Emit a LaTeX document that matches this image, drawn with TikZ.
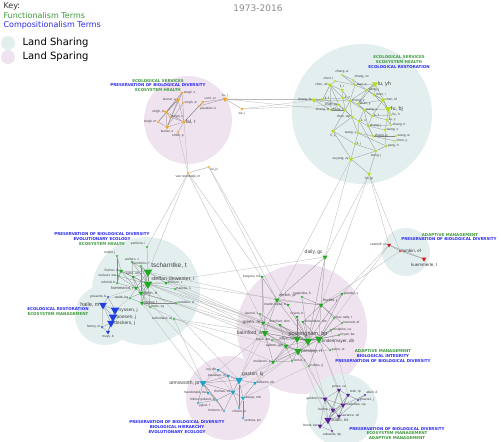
\documentclass[tikz,border=0pt]{standalone}
\usepackage{fontspec}
\setmainfont{DejaVu Sans}
\newfontfamily\labfont{Liberation Sans}
\usetikzlibrary{shapes.geometric}
\pgfdeclarelayer{bg}
\pgfdeclarelayer{edges}
\pgfsetlayers{bg,edges,main}
\definecolor{bgTeal}{HTML}{E3EFEF}
\definecolor{bgPink}{HTML}{F0E3F0}
\definecolor{cOr}{HTML}{F2A51F}
\definecolor{cYg}{HTML}{B8DC1C}
\definecolor{cGr}{HTML}{22A822}
\definecolor{cBl}{HTML}{1F3FE0}
\definecolor{cRd}{HTML}{D41C1C}
\definecolor{cCy}{HTML}{1CA5C8}
\definecolor{cPu}{HTML}{5A1F99}
\definecolor{tGr}{HTML}{3E9B3E}
\definecolor{tBl}{HTML}{2B2BF0}
\tikzset{
 tri/.style={regular polygon, regular polygon sides=3, shape border rotate=180, inner sep=0pt, minimum size=#1pt, draw=none},
 tri/.default=3.5,
 orn/.style={tri=#1,fill=cOr}, orn/.default=3.5,
 ygn/.style={tri=#1,fill=cYg}, ygn/.default=3.5,
 grn/.style={tri=#1,fill=cGr}, grn/.default=3.5,
 bln/.style={tri=#1,fill=cBl}, bln/.default=3.5,
 rdn/.style={tri=#1,fill=cRd}, rdn/.default=3.5,
 cyn/.style={tri=#1,fill=cCy}, cyn/.default=3.5,
 pun/.style={tri=#1,fill=cPu}, pun/.default=3.5,
 lab/.style={font=\labfont\fontsize{#1}{#1}\selectfont, text=black!75, inner sep=0.4pt},
 lab/.default=3.3,
 term/.style={font=\bfseries\fontsize{4}{4.5}\selectfont, inner sep=0pt},
 ein/.style={draw=black!48, line width=0.25pt},
 eout/.style={draw=black!28, line width=0.3pt},
}
\begin{document}
\begin{tikzpicture}[x=1pt,y=-1pt]
\useasboundingbox (0,0) rectangle (501,442);
\begin{pgfonlayer}{bg}
\fill[white] (0,0) rectangle (501,442);
\fill[bgPink] (188,120) circle (44pt);
\fill[bgTeal] (362,114) circle (70pt);
\fill[bgTeal] (146,291) circle (54pt);
\fill[bgTeal] (105,315) circle (30pt);
\fill[bgPink] (302,329) circle (65pt);
\fill[bgTeal] (406,252) circle (24pt);
\fill[bgPink] (228,398) circle (42pt);
\fill[bgTeal] (342,410) circle (36pt);
\end{pgfonlayer}

% legend and title
\node[anchor=west, font=\fontsize{8}{9}\selectfont, text=black!80] (key) at (0,6) {Key:};
\node[anchor=west, font=\fontsize{8}{9}\selectfont, text=tGr] (keyf) at (0,16) {Functionalism Terms};
\node[anchor=west, font=\fontsize{8}{9}\selectfont, text=tBl] (keyc) at (0,25) {Compositionalism Terms};
\fill[bgTeal] (8,43) circle (7pt);
\fill[bgPink] (8,57) circle (7pt);
\node[anchor=west, font=\fontsize{10}{11}\selectfont] (kshare) at (19,43) {Land Sharing};
\node[anchor=west, font=\fontsize{10}{11}\selectfont] (kspare) at (19,57) {Land Sparing};
\node[font=\fontsize{9}{10}\selectfont, text=black!45] (title) at (258,8) {1973-2016};

% terms
\node[term,text=tGr] (ta1) at (158,81) {ECOLOGICAL SERVICES};
\node[term,text=tBl] (ta2) at (158,85.5) {PRESERVATION OF BIOLOGICAL DIVERSITY};
\node[term,text=tGr] (ta3) at (158,90) {ECOSYSTEM HEALTH};
\node[term,text=tGr] (tb1) at (399,57) {ECOLOGICAL SERVICES};
\node[term,text=tGr] (tb2) at (399,62) {ECOSYSTEM HEALTH};
\node[term,text=tBl] (tb3) at (399,67) {ECOLOGICAL RESTORATION};
\node[term,text=tBl] (tc1) at (102,234) {PRESERVATION OF BIOLOGICAL DIVERSITY};
\node[term,text=tBl] (tc2) at (102,239) {EVOLUTIONARY ECOLOGY};
\node[term,text=tGr] (tc3) at (102,244) {ECOSYSTEM HEALTH};
\node[term,text=tBl] (td1) at (58,309) {ECOLOGICAL RESTORATION};
\node[term,text=tGr] (td2) at (58,314) {ECOSYSTEM MANAGEMENT};
\node[term,text=tGr] (te1) at (450,235) {ADAPTIVE MANAGEMENT};
\node[term,text=tBl] (te2) at (449,239.5) {PRESERVATION OF BIOLOGICAL DIVERSITY};
\node[term,text=tGr] (tf1) at (383,351) {ADAPTIVE MANAGEMENT};
\node[term,text=tBl] (tf2) at (383,356) {BIOLOGICAL INTEGRITY};
\node[term,text=tBl] (tf3) at (383,361) {PRESERVATION OF BIOLOGICAL DIVERSITY};
\node[term,text=tBl] (tg1) at (177,422) {PRESERVATION OF BIOLOGICAL DIVERSITY};
\node[term,text=tBl] (tg2) at (177,427) {BIOLOGICAL HIERARCHY};
\node[term,text=tBl] (tg3) at (177,432) {EVOLUTIONARY ECOLOGY};
\node[term,text=tBl] (th1) at (397,429) {PRESERVATION OF BIOLOGICAL DIVERSITY};
\node[term,text=tGr] (th2) at (397,433.5) {ECOSYSTEM MANAGEMENT};
\node[term,text=tGr] (th3) at (397,438) {ADAPTIVE MANAGEMENT};

% orange cluster
\node[orn=3.5,label={[lab]right:singh, s}] (o1) at (182,93) {};
\node[orn=5,label={[lab]left:kumar, a}] (o2) at (178,100) {};
\node[orn=3,label={[lab]right:singh, w}] (o2b) at (183,103) {};
\node[orn=3.5,label={[lab]above right:cerri, cc}] (o3) at (203,102) {};
\node[orn=6,label={[lab]above:xu, j}] (o4) at (225,99) {};
\node[orn=3.5,label={[lab]below:xie, j}] (o5) at (242,109) {};
\node[orn=3,label={[lab]below right:paustian, k}] (o6) at (199,106) {};
\node[orn=5,label={[lab]left:singh, d}] (o7) at (166,112) {};
\node[orn=3,label={[lab]right:singh, r}] (o8) at (170,117) {};
\node[orn=4.5,label={[lab=5]right:lal, r}] (o9) at (184,122) {};
\node[orn=3,label={[lab]left:singh, m}] (o10) at (158,122) {};
\node[orn=5,label={[lab]below:kumar, s}] (o11) at (167,127) {};
\node[orn=3,label={[lab]below:smith, p}] (o12) at (178,132) {};
\node[orn=3,label={[lab]below:van noordwijk, m}] (o13) at (188,173) {};
\node[orn=3,label={[lab]below right:xu, jc}] (o14) at (209,167) {};

% yellow-green cluster
\node[ygn=3,label={[lab]above:zhang, w}] (y1) at (342,75) {};
\node[ygn=3,label={[lab]above left:chen, l}] (y2) at (335,81) {};
\node[ygn=3,label={[lab]above right:zhang, xx}] (y3) at (353,80) {};
\node[ygn=5.5,label={[lab]left:chen, xd}] (y4) at (330,85) {};
\node[ygn=3.5,label={[lab]right:xiao, q}] (y5) at (355,85) {};
\node[ygn=7,label={[lab=5.5]right:lu, yh}] (y6) at (375,84) {};
\node[ygn=4,label={[lab]above:li, r}] (y7) at (342,90) {};
\node[ygn=3.5,label={[lab]right:wang, j}] (y8) at (367,90) {};
\node[ygn=6,label={[lab]left:zhang, fs}] (y9) at (314,100) {};
\node[ygn=3.5,label={[lab]right:li, f}] (y10) at (323,99) {};
\node[ygn=3.5,label={[lab]right:chen, i}] (y11) at (374,95) {};
\node[ygn=5.5,label={[lab]right:chen, ld}] (y12) at (383,100) {};
\node[ygn=7.5,label={[lab=5.5]right:fu, bj}] (y13) at (388,109) {};
\node[ygn=3.5,label={[lab]left:zhang, lx}] (y14) at (331,110) {};
\node[ygn=4,label={[lab]right:li, z}] (y15) at (343,98) {};
\node[ygn=3.5,label={[lab]left:chen, xx}] (y16) at (339,105) {};
\node[ygn=4,label={[lab]right:zhang, y}] (y17) at (350,101) {};
\node[ygn=3.5,label={[lab]right:zhao, y}] (y18) at (358,104) {};
\node[ygn=4,label={[lab]left:zhang, l}] (y19) at (345,110) {};
\node[ygn=4,label={[lab]right:wang, s}] (y20) at (364,110) {};
\node[ygn=3.5,label={[lab]right:lu, f}] (y21) at (372,116) {};
\node[ygn=4,label={[lab]left:chen, wp}] (y22) at (352,117) {};
\node[ygn=4,label={[lab]right:li, x}] (y23) at (359,121) {};
\node[ygn=3.5,label={[lab]right:zhang, j}] (y24) at (368,126) {};
\node[ygn=3.5,label={[lab]left:wang, y}] (y25) at (358,133) {};
\node[ygn=3.5,label={[lab]right:zhang, q}] (y26) at (373,136) {};
\node[ygn=3.5,label={[lab]right:li, j}] (y27) at (355,144) {};
\node[ygn=5,label={[lab]below:li, y}] (y28) at (333,131) {};
\node[ygn=3,label={[lab]right:liu, h}] (y29) at (391,115) {};
\node[ygn=3.5,label={[lab]right:liu, y}] (y30) at (387,120) {};
\node[ygn=3,label={[lab]right:zhang, h}] (y31) at (391,125) {};
\node[ygn=3.5,label={[lab]right:wang, x}] (y32) at (385,130) {};
\node[ygn=3,label={[lab]right:wang, w}] (y33) at (396,136) {};
\node[ygn=3,label={[lab]right:chen, y}] (y34) at (395,141) {};
\node[ygn=3.5,label={[lab]right:yang, h}] (y35) at (386,146) {};
\node[ygn=3.5,label={[lab]below:xiong, j}] (y36) at (376,151) {};
\node[ygn=5.5,label={[lab]left:ouyang, zy}] (y37) at (351,159) {};
\node[ygn=5,label={[lab]below:hu, jp}] (y38) at (369,174) {};

% red cluster
\node[rdn=5,label={[lab]left:radeloff, vc}] (r1) at (389,245) {};
\node[rdn=3,label={[lab=4.5]right:lambin, ef}] (r2) at (400,251) {};
\node[rdn=5.5,label={[lab=4.5]below:kuemmerle, t}] (r3) at (424,259) {};

% green left cluster
\node[grn=3,label={[lab]above left:perfecto, i}] (g1) at (147,247) {};
\node[grn=3,label={[lab]above left:muller, j}] (g2) at (117,256) {};
\node[grn=3,label={[lab]above:wolters, v}] (g3) at (132,262) {};
\node[grn=3,label={[lab]above:hendrickx, f}] (g4) at (141,266) {};
\node[grn=10,label={[lab=6.5]above right:tscharntke, t}] (g5) at (148,272) {};
\node[grn=5,label={[lab]left:fischer, m}] (g6) at (121,271) {};
\node[grn=3,label={[lab]left:weisser, ww}] (g7) at (118,276) {};
\node[grn=3.5,label={[lab]above:klein, am}] (g8) at (133,277) {};
\node[grn=10,label={[lab=5.3]above right:steffan-dewenter, i}] (g9) at (148,284) {};
\node[grn=3,label={[lab]left:schmid, b}] (g10) at (117,283) {};
\node[grn=4,label={[lab]right:kremen, c}] (g11) at (166,283) {};
\node[grn=5,label={[lab=4]left:bommarco, r}] (g12) at (136,288) {};
\node[grn=6,label={[lab=4]right:kleijn, d}] (g13) at (141,293) {};
\node[grn=3,label={[lab]left:smith, hg}] (g14) at (130,298) {};
\node[grn=5,label={[lab]right:herzog, f}] (g15) at (142,303) {};
\node[grn=3,label={[lab]right:potts, sg}] (g16) at (150,307) {};
\node[grn=3,label={[lab]right:haenke, s}] (g17) at (175,289) {};
\node[grn=3,label={[lab]right:veddeler, d}] (g18) at (176,303) {};
\node[grn=3,label={[lab]left:sutherland, wj}] (g19) at (174,319) {};

% blue cluster
\node[bln=3,label={[lab]left:govaerts, b}] (b1) at (108,297) {};
\node[bln=9,label={[lab=5.5]left:haile, m}] (b2) at (103,305) {};
\node[bln=10,label={[lab=4.8]right:nyssen, j}] (b3) at (115,310) {};
\node[bln=10,label={[lab=4.8]right:poesen, j}] (b4) at (113,317) {};
\node[bln=9,label={[lab=4.8]right:deckers, j}] (b5) at (111,323) {};
\node[bln=3,label={[lab]left:hermy, m}] (b6) at (102,327) {};
\node[bln=5,label={[lab]below:muys, b}] (b7) at (108,332) {};

% central green cluster
\node[grn=6,label={[lab=5]above left:daily, gc}] (c1) at (325,257) {};
\node[grn=3.5,label={[lab]left:burgess, nd}] (c2) at (262,277) {};
\node[grn=6,label={[lab=3.8]above right:ehrlich, pr}] (c3) at (277,300) {};
\node[grn=3,label={[lab]above:nagendra, h}] (c4) at (302,297) {};
\node[grn=3.5,label={[lab]right:polasky, s}] (c5) at (342,294) {};
\node[grn=3.5,label={[lab]left:martin-lopez, b}] (c6) at (288,305) {};
\node[grn=6,label={[lab=3.8]above right:fischer, j}] (c7) at (321,305) {};
\node[grn=3,label={[lab]left:lavorel, s}] (c8) at (260,314) {};
\node[grn=3.5,label={[lab]above:reyers, b}] (c9) at (297,317) {};
\node[grn=3,label={[lab]right:mac nally, r}] (c10) at (334,318) {};
\node[grn=5,label={[lab=4.5]left:green, re}] (c11) at (263,323) {};
\node[grn=3.5,label={[lab]above:butchart, shm}] (c12) at (280,325) {};
\node[grn=3.5,label={[lab]right:richardson, dm}] (c13) at (303,322) {};
\node[grn=3,label={[lab]right:bennett, af}] (c14) at (342,323) {};
\node[grn=8,label={[lab=5]left:balmford, a}] (c15) at (265,333) {};
\node[grn=9.5,label={[lab=5.5,label distance=1pt]above:possingham, hp}] (c16) at (308,341) {};
\node[grn=3,label={[lab]right:mcalpine, ca}] (c17) at (331,330) {};
\node[grn=3,label={[lab]right:bryan, ba}] (c18) at (339,335) {};
\node[grn=9,label={[lab=4.5,yshift=-2.5pt]right:lindenmayer, db}] (c19) at (319,339) {};
\node[grn=3,label={[lab]left:mace, gm}] (c20) at (272,340) {};
\node[grn=9,label={[lab=4.5]right:pressey, rl}] (c22) at (298,351) {};
\node[grn=6,label={[lab]left:watson, jem}] (c23) at (286,346) {};
\node[grn=3,label={[lab]right:game, et}] (c24) at (330,350) {};
\node[grn=8,label={[lab]left:wilson, ka}] (c25) at (297,339) {};
\node[grn=5,label={[lab]left:moilanen, a}] (c26) at (273,362) {};
\node[grn=3,label={[lab]right:ferrier, s}] (c27) at (292,361) {};
\node[grn=3,label={[lab]right:hobbs, rj}] (c28) at (309,366) {};

% cyan cluster
\node[cyn=3.5,label={[lab]left:roy, db}] (k1) at (218,370) {};
\node[cyn=9,label={[lab=5]above right:gaston, kj}] (k2) at (239,380) {};
\node[cyn=4,label={[lab]left:pautasso, m}] (k3) at (228,376) {};
\node[cyn=8,label={[lab=5]left:armsworth, pr}] (k4) at (203,383) {};
\node[cyn=4.5,label={[lab]right:williams, ph}] (k5) at (255,383) {};
\node[cyn=6,label={[lab]left:thomas, cd}] (k6) at (233,392) {};
\node[cyn=3.5,label={[lab]left:macdonald, dw}] (k7) at (208,393) {};
\node[cyn=3,label={[lab]left:milner-gulland, ej}] (k8) at (217,400) {};
\node[cyn=3,label={[lab]below right:jiguet, f}] (k9) at (198,403) {};
\node[cyn=5,label={[lab]right:araujo, mb}] (k10) at (243,398) {};
\node[cyn=3,label={[lab]left:brotons, l}] (k11) at (224,411) {};
\node[cyn=3,label={[lab]below:chown, sl}] (k12) at (239,408) {};
\node[cyn=3,label={[lab]below right:ventura, pn}] (k13) at (243,418) {};

% purple cluster
\node[pun=5,label={[lab]above:peres, ca}] (p1) at (339,390) {};
\node[pun=5,label={[lab]above right:tosh, lp}] (p2) at (348,395) {};
\node[pun=3,label={[lab]above right:abell, d}] (p3) at (365,395) {};
\node[pun=6,label={[lab]left:gardner, ta}] (p4) at (325,399) {};
\node[pun=3,label={[lab]right:ghazoul, j}] (p5) at (358,400) {};
\node[pun=6,label={[lab]right:bradshaw, cja}] (p6) at (343,405) {};
\node[pun=6,label={[lab]left:barlow, j}] (p7) at (333,410) {};
\node[pun=5,label={[lab]right:laurance, wf}] (p8) at (339,416) {};
\node[pun=8.5,label={[lab=4.3]right:sodhi, ns}] (p9) at (328,420) {};
\node[pun=5.5,label={[lab]left:brook, bw}] (p10) at (320,426) {};
\node[pun=3,label={[lab]below:edwards, dp}] (p11) at (332,431) {};

\begin{pgfonlayer}{edges}
% long cross-cluster edges
\foreach \a/\b in {o4/y9,o4/y14,o4/y10,o5/y9,o5/y16,o12/o13,o9/o13,o13/g1,o13/g5,o13/c2,o13/c11,o14/c3,o14/c6,
 y37/c1,y38/c1,y38/r1,y38/r2,y38/c7,y37/c3,r1/c5,r2/c7,r1/c19,
 g9/c15,g9/c16,g5/c16,g13/c16,g11/c11,g17/c15,g18/c22,g19/c22,g16/c26,g13/c15,g5/c3,g9/c19,g19/c15,g11/c7,g17/c16,g9/c1,
 k2/c15,k2/c16,k2/c22,k4/c15,k5/c26,k5/c22,k10/c28,k6/c19,k2/c11,k4/g15,k2/g9,k4/g19,k6/g13,
 c19/p1,c16/p4,c22/p9,c28/p4,c17/p2,c19/p6,c22/p7,b1/g12,b1/g14,b3/g14}
 \draw[eout] (\a) -- (\b);
% within-cluster edges
\foreach \a/\b in {o1/o7,o1/o11,o1/o9,o1/o10,o2/o7,o2/o11,o2/o9,o2/o10,o2b/o11,o7/o11,o7/o8,o8/o9,o10/o11,o11/o9,o7/o9,o3/o9,o6/o9,o3/o6,o12/o9,o4/o5,o4/o3,o4/o6,o13/o14,
 y1/y3,y1/y5,y2/y4,y2/y5,y3/y5,y3/y8,y4/y7,y4/y10,y4/y15,y4/y16,y5/y6,y5/y8,y5/y17,y6/y8,y6/y11,y6/y13,y6/y18,y7/y15,y7/y17,y8/y11,y8/y12,y8/y18,y9/y10,y9/y14,y9/y16,y9/y17,y10/y15,y10/y16,y11/y12,y11/y13,y12/y13,y12/y18,y13/y20,y13/y29,y13/y30,y14/y16,y14/y19,y15/y17,y15/y19,y16/y19,y16/y22,y17/y18,y17/y19,y17/y20,y17/y22,y18/y20,y18/y21,y19/y22,y19/y28,y20/y21,y20/y23,y21/y24,y21/y29,y21/y30,y22/y23,y22/y25,y22/y28,y23/y24,y23/y25,y24/y26,y24/y31,y24/y32,y25/y27,y25/y26,y26/y33,y26/y34,y27/y37,y27/y36,y28/y37,y28/y27,y30/y31,y30/y32,y32/y35,y35/y36,y36/y38,y37/y38,y36/y37,y23/y36,y20/y24,y6/y17,y12/y21,y25/y35,y4/y14,y13/y31,
 r1/r2,r2/r3,r1/r3,
 g1/g5,g2/g6,g2/g10,g3/g5,g3/g8,g4/g5,g4/g9,g5/g8,g5/g9,g5/g11,g5/g12,g5/g13,g5/g6,g5/g15,g6/g7,g6/g8,g6/g10,g6/g12,g7/g9,g7/g12,g8/g9,g8/g12,g8/g13,g9/g11,g9/g12,g9/g13,g9/g15,g9/g16,g9/g17,g10/g12,g12/g13,g12/g14,g13/g14,g13/g15,g13/g16,g14/g15,g15/g16,g13/g18,g15/g18,g6/g9,g3/g9,g4/g13,
 b1/b2,b1/b3,b2/b3,b2/b4,b2/b5,b3/b4,b3/b5,b4/b5,b2/b6,b5/b6,b5/b7,b4/b7,b6/b7,b3/b7,
 c1/c3,c1/c7,c1/c16,c2/c3,c2/c11,c2/c15,c3/c6,c3/c11,c3/c16,c3/c7,c3/c15,c4/c16,c4/c7,c5/c7,c5/c16,c5/c19,c6/c16,c7/c16,c7/c19,c7/c10,c7/c14,c7/c13,c8/c11,c8/c16,c9/c16,c9/c25,c10/c19,c11/c15,c11/c16,c11/c25,c12/c16,c12/c23,c12/c25,c13/c16,c13/c19,c14/c19,c15/c16,c15/c23,c15/c25,c15/c22,c15/c26,c16/c19,c16/c22,c16/c23,c16/c25,c16/c17,c16/c18,c17/c19,c18/c19,c19/c22,c19/c24,c19/c28,c20/c25,c20/c23,c22/c23,c22/c25,c22/c26,c22/c27,c22/c28,c22/c24,c23/c26,c25/c26,c26/c27,c23/c27,c19/c25,
 k1/k2,k1/k3,k2/k3,k2/k4,k2/k5,k2/k6,k2/k10,k2/k12,k3/k4,k3/k6,k4/k6,k4/k7,k4/k8,k4/k9,k6/k10,k6/k11,k6/k12,k7/k8,k8/k9,k8/k11,k10/k13,k10/k12,k5/k10,k6/k8,k4/k11,
 p1/p2,p1/p4,p1/p6,p1/p7,p1/p9,p2/p6,p2/p5,p2/p9,p2/p8,p3/p6,p4/p6,p4/p7,p4/p9,p4/p10,p5/p8,p6/p7,p6/p8,p6/p9,p7/p9,p7/p8,p8/p9,p9/p10,p9/p11,p10/p11,p3/p5,p4/p8}
 \draw[ein] (\a) -- (\b);
\end{pgfonlayer}
\end{tikzpicture}
\end{document}
